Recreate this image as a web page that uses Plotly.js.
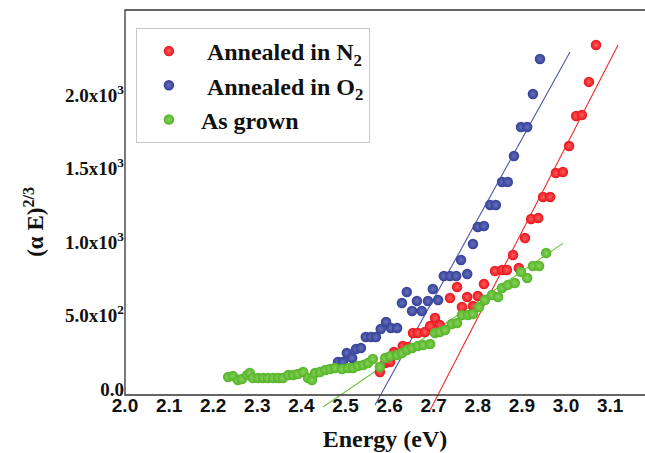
<!DOCTYPE html>
<html>
<head>
<meta charset="utf-8">
<script src="https://cdn.plot.ly/plotly-3.0.1.min.js"></script>
<style>html,body{margin:0;padding:0;background:#fff;}#chart{width:645px;height:453px;}</style>
</head>
<body>
<div id="chart"></div>
<script>
// ---- data ----
const seriesNames = ['\u00a0Annealed in N<sub>2</sub>', '\u00a0Annealed in O<sub>2</sub>', 'As grown'];

const n2X = [2.578,2.590,2.601,2.610,2.630,2.642,2.653,2.664,2.680,2.692,2.703,2.714,2.737,2.753,2.764,2.776,2.789,2.800,2.814,2.839,2.855,2.866,2.880,2.893,2.907,2.921,2.937,2.948,2.964,2.977,2.993,3.007,3.023,3.036,3.052,3.068];
const n2Y = [116,177,184,252,293,286,381,381,388,429,483,435,619,694,558,626,565,633,714,803,810,810,912,823,1027,1157,1163,1306,1306,1469,1476,1653,1857,1864,2089,2340];

const o2X = [2.483,2.494,2.503,2.515,2.524,2.535,2.546,2.558,2.569,2.580,2.592,2.603,2.617,2.628,2.639,2.651,2.662,2.673,2.687,2.698,2.710,2.723,2.737,2.751,2.762,2.776,2.789,2.800,2.814,2.828,2.841,2.855,2.868,2.882,2.898,2.912,2.925,2.941];
const o2Y = [184,184,245,211,272,279,354,354,354,408,456,415,415,585,660,531,599,531,599,680,605,769,769,769,878,782,986,1102,1109,1252,1252,1408,1408,1585,1782,1782,2007,2245];

const grownX = [2.234,2.245,2.256,2.265,2.277,2.283,2.290,2.302,2.313,2.324,2.336,2.347,2.358,2.370,2.381,2.392,2.404,2.415,2.424,2.431,2.442,2.454,2.465,2.476,2.492,2.506,2.517,2.528,2.540,2.551,2.562,2.578,2.590,2.601,2.617,2.628,2.639,2.651,2.664,2.676,2.692,2.703,2.714,2.726,2.741,2.753,2.764,2.778,2.789,2.803,2.816,2.832,2.846,2.855,2.868,2.884,2.898,2.912,2.925,2.939,2.955];
const grownY = [82,88,61,68,95,109,75,75,75,75,75,75,75,95,95,102,116,75,61,109,116,129,136,143,136,143,143,156,163,177,204,150,211,224,231,245,265,279,293,299,306,381,388,401,442,449,503,503,510,558,605,639,626,687,707,721,796,755,837,837,925];

// linear-fit lines (end points)
const n2FitX = [2.692, 3.118];
const n2FitY = [-143, 2340];
const o2FitX = [2.567, 3.009];
const o2FitY = [-109, 2293];
const grownFitX = [2.449, 2.993];
const grownFitY = [-122, 991];

const yTickVals = [0, 500, 1000, 1500, 2000];
const yTickText = ['0.0', '5.0x10<sup>2</sup>', '1.0x10<sup>3</sup>', '1.5x10<sup>3</sup>', '2.0x10<sup>3</sup>'];
const xTickVals = [2.0,2.1,2.2,2.3,2.4,2.5,2.6,2.7,2.8,2.9,3.0,3.1];
const xTickText = ['2.0','2.1','2.2','2.3','2.4','2.5','2.6','2.7','2.8','2.9','3.0','3.1'];
const yTitle = '(α E)<sup>2/3</sup>';
const xTitle = 'Energy (eV)';

// ---- styles ----
const RED = '#e8141c', BLUE = '#333f96', GREEN = '#55b328';
const serif = '"Liberation Serif", "Times New Roman", serif';
const sans = '"Liberation Sans", Arial, sans-serif';

function fit(x, y, c) {
  return {x: x, y: y, type: 'scatter', mode: 'lines', line: {color: c, width: 1.1},
          showlegend: false, hoverinfo: 'skip'};
}
function pts(x, y, name, c, light, g) {
  return {x: x, y: y, type: 'scatter', mode: 'markers', name: name, legendgroup: g,
          marker: {color: c, size: 10.5, line: {width: 0},
                   gradient: {type: 'radial', color: light}},
          cliponaxis: false};
}

const data = [
  fit(n2FitX, n2FitY, '#f02a2a'),
  fit(o2FitX, o2FitY, '#4a55a8'),
  fit(grownFitX, grownFitY, '#6cc23e'),
  pts(n2X, n2Y, seriesNames[0], RED, '#ff5c5c', 'a'),
  pts(o2X, o2Y, seriesNames[1], BLUE, '#6670bb', 'b'),
  pts(grownX, grownY, seriesNames[2], GREEN, '#86d25a', 'c')
];

const axisPos = (412 - 395) / 402;

const layout = {
  width: 645, height: 453,
  margin: {l: 125, r: 0, t: 10, b: 41, pad: 0},
  paper_bgcolor: '#fff', plot_bgcolor: '#fff',
  showlegend: true,
  xaxis: {
    range: [2.0, 2.0 + 520 / 441],
    anchor: 'free', position: axisPos,
    showgrid: false, zeroline: false, showline: false,
    ticks: '', tickvals: xTickVals, ticktext: xTickText,
    ticklabelstandoff: -3,
    tickfont: {family: sans, size: 19, color: '#111', weight: 'bold'},
    title: {text: xTitle, font: {family: serif, size: 24, color: '#111', weight: 'bold'}, standoff: 15}
  },
  yaxis: {
    range: [-156, 2578],
    showgrid: false, zeroline: false, showline: false,
    ticks: '', tickvals: yTickVals, ticktext: yTickText,
    tickfont: {family: serif, size: 19, color: '#111', weight: 'bold'}
  },
  annotations: [{
    text: yTitle, xref: 'paper', yref: 'paper',
    x: -(125 - 34) / 519, y: (412 - 222) / 402, xanchor: 'center', yanchor: 'middle',
    textangle: -90, showarrow: false,
    font: {family: serif, size: 23, color: '#111', weight: 'bold'}
  }],
  legend: {
    x: 0.021, y: (412 - 28) / 402, xanchor: 'left', yanchor: 'top',
    bordercolor: '#c8c8c8', borderwidth: 1, bgcolor: '#fff',
    font: {family: serif, size: 24, color: '#111', weight: 'bold'},
    itemwidth: 54, traceorder: 'grouped', tracegroupgap: 0
  },
  shapes: [{
    type: 'rect', xref: 'paper', yref: 'paper',
    x0: 0, x1: 1.05, y0: axisPos, y1: 1,
    line: {color: '#333', width: 1.3}, layer: 'above'
  }]
};

Plotly.newPlot('chart', data, layout, {displayModeBar: false, staticPlot: true});
</script>
</body>
</html>
